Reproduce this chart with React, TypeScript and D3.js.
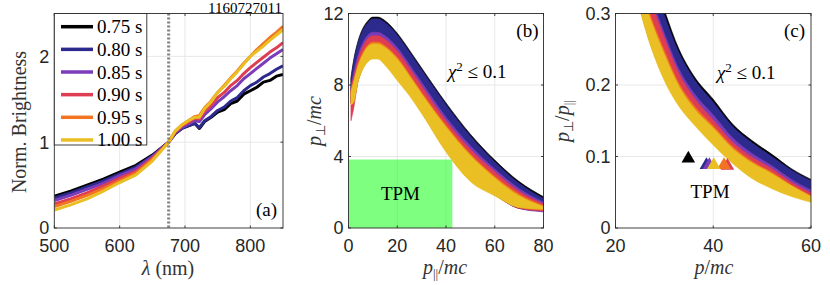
import * as d3 from 'd3'

const times = ['0.75 s', '0.80 s', '0.85 s', '0.90 s', '0.95 s', '1.00 s']
const colors = ['#000000', '#2d2a8e', '#7b3cb9', '#de3d52', '#f27420', '#eabf24']

// (a) normalized spectra
const lambda = [500, 525, 550, 575, 600, 625, 650, 675, 685, 695, 705, 715, 722, 730, 740, 750, 760, 770, 780, 790, 800, 810, 820, 830, 840, 850]
const bright075 = [0.37, 0.43, 0.50, 0.57, 0.65, 0.73, 0.85, 1, 1.10, 1.16, 1.19, 1.22, 1.16, 1.24, 1.29, 1.35, 1.38, 1.45, 1.48, 1.56, 1.60, 1.64, 1.70, 1.72, 1.77, 1.79]
const bright080 = [0.35, 0.41, 0.48, 0.55, 0.63, 0.71, 0.84, 1, 1.10, 1.16, 1.19, 1.22, 1.17, 1.25, 1.30, 1.37, 1.41, 1.48, 1.52, 1.60, 1.66, 1.70, 1.76, 1.80, 1.85, 1.89]
const bright085 = [0.32, 0.38, 0.45, 0.52, 0.61, 0.69, 0.83, 1, 1.11, 1.17, 1.21, 1.25, 1.24, 1.32, 1.39, 1.47, 1.53, 1.60, 1.66, 1.74, 1.80, 1.86, 1.92, 1.98, 2.03, 2.08]
const bright090 = [0.28, 0.34, 0.41, 0.49, 0.58, 0.66, 0.81, 1, 1.12, 1.19, 1.23, 1.28, 1.27, 1.36, 1.43, 1.52, 1.58, 1.66, 1.72, 1.80, 1.87, 1.93, 1.99, 2.05, 2.10, 2.16]
const bright095 = [0.25, 0.31, 0.38, 0.46, 0.55, 0.64, 0.80, 1, 1.13, 1.20, 1.25, 1.30, 1.31, 1.40, 1.48, 1.58, 1.66, 1.75, 1.83, 1.92, 2.00, 2.08, 2.15, 2.22, 2.28, 2.35]
const bright100 = [0.21, 0.27, 0.34, 0.43, 0.53, 0.62, 0.78, 1, 1.13, 1.20, 1.25, 1.29, 1.29, 1.39, 1.47, 1.58, 1.65, 1.74, 1.82, 1.91, 2.00, 2.06, 2.12, 2.19, 2.25, 2.31]
const spectra = [bright075, bright080, bright085, bright090, bright095, bright100]
const refLambda = 675

// (b) p_perp vs p_par regions with chi^2 <= 0.1
const pPar = [1, 2, 4, 6, 8, 10, 12, 15, 20, 25, 30, 40, 50, 60, 70, 80]
const perpUp075 = [8.4, 9.3, 10.5, 11.2, 11.6, 11.8, 11.8, 11.6, 10.9, 9.95, 8.95, 7.0, 5.25, 3.8, 2.6, 1.75]
const perpUp080 = [8.3, 9.2, 10.4, 11.1, 11.5, 11.7, 11.7, 11.5, 10.8, 9.85, 8.85, 6.9, 5.15, 3.7, 2.5, 1.65]
const perpUp085 = [7.9, 8.6, 9.7, 10.4, 10.8, 10.95, 10.95, 10.75, 10.1, 9.15, 8.15, 6.2, 4.6, 3.3, 2.2, 1.45]
const perpUp090 = [7.8, 8.4, 9.5, 10.2, 10.6, 10.75, 10.75, 10.55, 9.9, 8.95, 7.95, 6.0, 4.4, 3.15, 2.05, 1.35]
const perpUp095 = [7.7, 8.2, 9.2, 9.85, 10.25, 10.4, 10.4, 10.2, 9.55, 8.6, 7.6, 5.75, 4.15, 2.9, 1.9, 1.25]
const perpUp100 = [7.6, 8.1, 9.1, 9.75, 10.15, 10.3, 10.3, 10.1, 9.45, 8.5, 7.5, 5.65, 4.05, 2.8, 1.8, 1.2]
const perpLo075 = [7.0, 7.1, 8.3, 9.0, 9.4, 9.55, 9.55, 9.2, 8.35, 7.5, 6.5, 4.35, 2.7, 1.85, 1.1, 0.95]
const perpLo080 = [7.0, 7.1, 8.3, 9.0, 9.4, 9.55, 9.55, 9.2, 8.35, 7.5, 6.5, 4.35, 2.7, 1.85, 1.1, 0.95]
const perpLo085 = [7.0, 7.1, 8.3, 9.0, 9.4, 9.55, 9.55, 9.2, 8.35, 7.5, 6.5, 4.35, 2.7, 1.85, 1.1, 0.9]
const perpLo090 = [6.0, 6.6, 8.3, 9.0, 9.4, 9.55, 9.55, 9.2, 8.35, 7.5, 6.5, 4.35, 2.7, 1.85, 1.1, 0.95]
const perpLo095 = [7.0, 7.1, 8.3, 9.0, 9.4, 9.55, 9.55, 9.2, 8.35, 7.5, 6.5, 4.35, 2.7, 1.85, 1.15, 1.0]
const perpLo100 = [6.9, 7.0, 8.2, 8.9, 9.3, 9.45, 9.45, 9.1, 8.25, 7.4, 6.4, 4.25, 2.6, 1.8, 1.15, 1.05]
const perpUp = [perpUp075, perpUp080, perpUp085, perpUp090, perpUp095, perpUp100]
const perpLo = [perpLo075, perpLo080, perpLo085, perpLo090, perpLo095, perpLo100]
const tpmParMax = 42.6
const tpmPerpMax = 3.83

// (c) pitch ratio vs total momentum
const pTot = [24, 27, 30, 33, 36, 40, 44, 48, 52, 56, 60]
const ratioUp075 = [0.45, 0.37, 0.305, 0.25, 0.213, 0.18, 0.145, 0.122, 0.103, 0.083, 0.068]
const ratioUp080 = [0.44, 0.362, 0.298, 0.245, 0.209, 0.176, 0.142, 0.119, 0.1, 0.081, 0.066]
const ratioUp085 = [0.40, 0.33, 0.272, 0.222, 0.189, 0.158, 0.126, 0.104, 0.087, 0.068, 0.053]
const ratioUp090 = [0.39, 0.322, 0.266, 0.216, 0.183, 0.151, 0.12, 0.099, 0.083, 0.064, 0.049]
const ratioUp095 = [0.365, 0.30, 0.248, 0.202, 0.172, 0.143, 0.114, 0.093, 0.078, 0.06, 0.045]
const ratioUp100 = [0.36, 0.295, 0.243, 0.198, 0.168, 0.14, 0.111, 0.091, 0.076, 0.059, 0.044]
const ratioLoHidden = [0.335, 0.262, 0.21, 0.174, 0.149, 0.12, 0.094, 0.073, 0.059, 0.047, 0.039]
const ratioLo100 = [0.33, 0.258, 0.206, 0.17, 0.145, 0.116, 0.09, 0.069, 0.055, 0.044, 0.036]
const ratioUp = [ratioUp075, ratioUp080, ratioUp085, ratioUp090, ratioUp095, ratioUp100]
const ratioLo = [ratioLoHidden, ratioLoHidden, ratioLoHidden, ratioLoHidden, ratioLoHidden, ratioLo100]
const tpmP = [34.9, 38.6, 39.2, 42.9, 42.2, 40.1]
const tpmRatio = [0.097, 0.088, 0.088, 0.087, 0.088, 0.088]

const serif = '"Liberation Serif", "Times New Roman", serif'
const sans = '"Liberation Sans", Arial, sans-serif'
const gridColor = '#e2e2e2'
const axisColor = '#2b2b2b'
const tickColor = '#262626'

const top = 13.5
const bottom = 228

const xa = d3.scaleLinear([500, 850], [54.3, 283])
const ya = d3.scaleLinear([0, 2.5], [bottom, top])
const xb = d3.scaleLinear([0, 80], [348.5, 543.5])
const yb = d3.scaleLinear([0, 12], [bottom, top])
const xc = d3.scaleLinear([20, 60], [615.5, 811])
const yc = d3.scaleLinear([0, 0.3], [bottom, top])

type S = d3.ScaleLinear<number, number>

function Grid({x, y, xt, yt}: {x: S, y: S, xt: number[], yt: number[]}) {
  const [x0, x1] = x.range()
  const [y0, y1] = y.range()
  return (
    <g stroke={gridColor} strokeWidth={0.8}>
      {xt.map(t => <line key={'x' + t} x1={x(t)} x2={x(t)} y1={y0} y2={y1} />)}
      {yt.map(t => <line key={'y' + t} x1={x0} x2={x1} y1={y(t)} y2={y(t)} />)}
    </g>
  )
}

function Axes({x, y, xt, yt, fy}: {x: S, y: S, xt: number[], yt: number[], fy?: (v: number) => string}) {
  const [x0, x1] = x.range()
  const [y0, y1] = y.range()
  const tl = 2.5
  return (
    <g>
      <rect x={x0} y={y1} width={x1 - x0} height={y0 - y1} fill="none" stroke={axisColor} strokeWidth={0.9} />
      <g stroke={axisColor} strokeWidth={0.9}>
        {xt.map(t => <g key={'xt' + t}>
          <line x1={x(t)} x2={x(t)} y1={y0} y2={y0 - tl} />
          <line x1={x(t)} x2={x(t)} y1={y1} y2={y1 + tl} />
        </g>)}
        {yt.map(t => <g key={'yt' + t}>
          <line x1={x0} x2={x0 + tl} y1={y(t)} y2={y(t)} />
          <line x1={x1} x2={x1 - tl} y1={y(t)} y2={y(t)} />
        </g>)}
      </g>
      <g fontFamily={sans} fontSize={18} fill={tickColor}>
        {xt.map(t => <text key={'xl' + t} x={x(t)} y={252} textAnchor="middle">{t}</text>)}
        {yt.map(t => <text key={'yl' + t} x={x0 - 5} y={y(t)} dy="0.36em" textAnchor="end">{fy ? fy(t) : t}</text>)}
      </g>
    </g>
  )
}

export default function App() {
  const line = d3.line<number>().x((_, i) => xa(lambda[i])).y(d => ya(d)).curve(d3.curveLinear)
  const bandB = (i: number) => d3.area<number>()
    .x(p => xb(p))
    .y0((_, j) => yb(perpLo[i][j]))
    .y1((_, j) => yb(perpUp[i][j]))
    .curve(d3.curveMonotoneX)(pPar)
  const bandC = (i: number) => d3.area<number>()
    .x(p => xc(p))
    .y0((_, j) => yc(ratioLo[i][j]))
    .y1((_, j) => yc(ratioUp[i][j]))
    .curve(d3.curveMonotoneX)(pTot)
  const tri = d3.symbol(d3.symbolTriangle, 80)()
  const legendY = (i: number) => 26.7 + i * 22.65

  const sub = 13
  return (
    <svg width={830} height={285} style={{position: 'absolute', left: 0, top: 0, background: '#fff'}}>
      <defs>
        <clipPath id="ca"><rect x={xa(500)} y={top} width={xa(850) - xa(500)} height={bottom - top} /></clipPath>
        <clipPath id="cb"><rect x={xb(0)} y={top} width={xb(80) - xb(0)} height={bottom - top} /></clipPath>
        <clipPath id="cc"><rect x={xc(20)} y={top} width={xc(60) - xc(20)} height={bottom - top} /></clipPath>
      </defs>

      {/* (a) */}
      <Grid x={xa} y={ya} xt={[600, 700, 800]} yt={[1, 2]} />
      <g clipPath="url(#ca)" fill="none" strokeWidth={3} strokeLinejoin="round">
        {spectra.map((s, i) => <path key={i} d={line(s) || ''} stroke={colors[i]} />)}
        <line x1={xa(refLambda)} x2={xa(refLambda)} y1={top} y2={bottom} stroke="#7f7f7f" strokeWidth={3} strokeDasharray="2,2" />
      </g>
      <Axes x={xa} y={ya} xt={[500, 600, 700, 800]} yt={[0, 1, 2]} />
      <rect x={xa(500)} y={top} width={92.5} height={131.5} fill="#fff" stroke={axisColor} strokeWidth={0.9} />
      {times.map((t, i) => <g key={t}>
        <line x1={61} x2={93} y1={legendY(i)} y2={legendY(i)} stroke={colors[i]} strokeWidth={3.5} />
        <text x={97} y={legendY(i) + 6.5} fontFamily={serif} fontSize={19}>{t}</text>
      </g>)}
      <text x={282} y={12.5} textAnchor="end" fontFamily={serif} fontSize={15}>1160727011</text>
      <text x={277} y={216} textAnchor="end" fontFamily={serif} fontSize={19}>(a)</text>
      <text transform="translate(26,122) rotate(-90)" textAnchor="middle" fontFamily={serif} fontSize={20} fill="#333">Norm. Brightness</text>
      <text x={168} y={275} textAnchor="middle" fontFamily={serif} fontSize={20} fill="#333">
        <tspan fontStyle="italic">λ</tspan> (nm)
      </text>

      {/* (b) */}
      <Grid x={xb} y={yb} xt={[20, 40, 60]} yt={[4, 8]} />
      <rect x={xb(0)} y={yb(tpmPerpMax)} width={xb(tpmParMax) - xb(0)} height={yb(0) - yb(tpmPerpMax)} fill="#00ff00" fillOpacity={0.5} />
      <text x={(xb(0) + xb(tpmParMax)) / 2} y={200} textAnchor="middle" fontFamily={serif} fontSize={19}>TPM</text>
      <g clipPath="url(#cb)">
        {colors.map((c, i) => <path key={i} d={bandB(i) || ''} fill={c} stroke={c} strokeWidth={0.6} />)}
      </g>
      <Axes x={xb} y={yb} xt={[0, 20, 40, 60, 80]} yt={[0, 4, 8, 12]} />
      <text x={538.5} y={37} textAnchor="end" fontFamily={serif} fontSize={19}>(b)</text>
      <text x={448} y={78} fontFamily={serif} fontSize={19}>
        <tspan fontStyle="italic">χ</tspan><tspan fontSize={sub} dy={-7}>2</tspan><tspan dy={7}> ≤ 0.1</tspan>
      </text>
      <text transform="translate(320.5,121) rotate(-90)" textAnchor="middle" fontFamily={serif} fontSize={20} fill="#333">
        <tspan fontStyle="italic">p</tspan><tspan fontSize={sub} dy={4}>⊥</tspan><tspan dy={-4}>/</tspan><tspan fontStyle="italic">mc</tspan>
      </text>
      <text x={445} y={274} textAnchor="middle" fontFamily={serif} fontSize={20} fill="#333">
        <tspan fontStyle="italic">p</tspan><tspan fontSize={sub} dy={4}>||</tspan><tspan dy={-4}>/</tspan><tspan fontStyle="italic">mc</tspan>
      </text>

      {/* (c) */}
      <Grid x={xc} y={yc} xt={[40]} yt={[0.1, 0.2]} />
      <g clipPath="url(#cc)">
        {colors.map((c, i) => <path key={i} d={bandC(i) || ''} fill={c} stroke={c} strokeWidth={0.6} />)}
        {colors.map((c, i) => <path key={'t' + i} d={tri || ''} transform={`translate(${xc(tpmP[i])},${yc(tpmRatio[i])})`} fill={c} />)}
      </g>
      <text x={710} y={198} textAnchor="middle" fontFamily={serif} fontSize={19}>TPM</text>
      <Axes x={xc} y={yc} xt={[20, 40, 60]} yt={[0, 0.1, 0.2, 0.3]} fy={d3.format('.1~f')} />
      <text x={805} y={37} textAnchor="end" fontFamily={serif} fontSize={19}>(c)</text>
      <text x={717} y={78.5} fontFamily={serif} fontSize={19}>
        <tspan fontStyle="italic">χ</tspan><tspan fontSize={sub} dy={-7}>2</tspan><tspan dy={7}> ≤ 0.1</tspan>
      </text>
      <text transform="translate(569,121) rotate(-90)" textAnchor="middle" fontFamily={serif} fontSize={20} fill="#333">
        <tspan fontStyle="italic">p</tspan><tspan fontSize={sub} dy={4}>⊥</tspan><tspan dy={-4}>/</tspan><tspan fontStyle="italic">p</tspan><tspan fontSize={sub} dy={4}>||</tspan>
      </text>
      <text x={714} y={274} textAnchor="middle" fontFamily={serif} fontSize={20} fill="#333">
        <tspan fontStyle="italic">p</tspan>/<tspan fontStyle="italic">mc</tspan>
      </text>
    </svg>
  )
}
